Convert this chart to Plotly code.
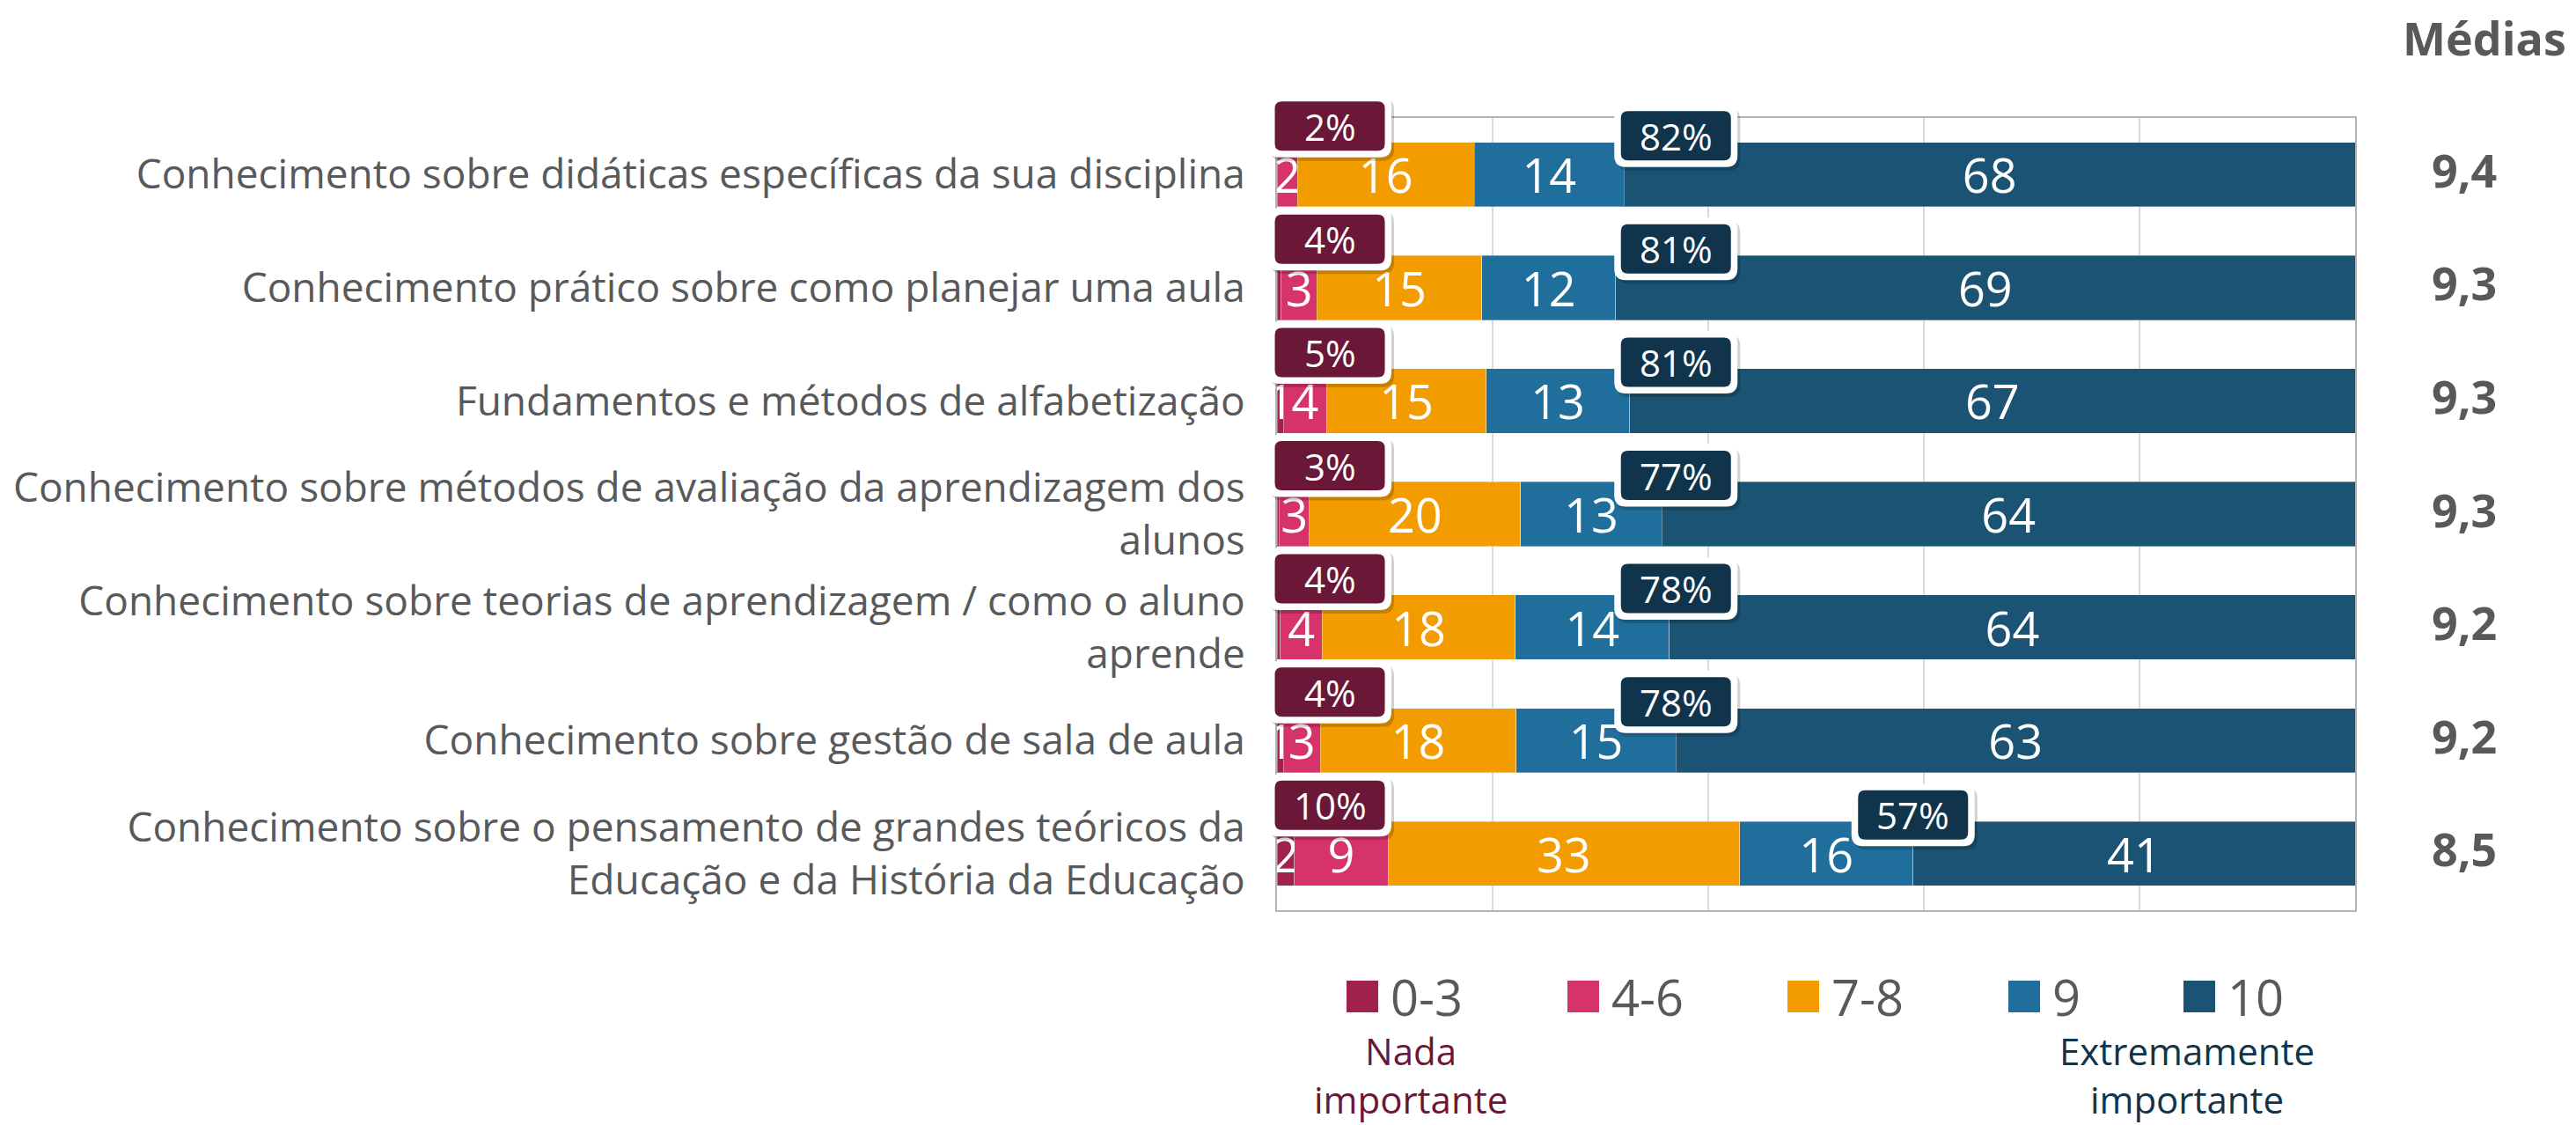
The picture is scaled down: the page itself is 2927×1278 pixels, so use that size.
import plotly.graph_objects as go

# ---------------- data ----------------
categories = [
    "Conhecimento sobre didáticas específicas da sua disciplina",
    "Conhecimento prático sobre como planejar uma aula",
    "Fundamentos e métodos de alfabetização",
    "Conhecimento sobre métodos de avaliação da aprendizagem dos<br>alunos",
    "Conhecimento sobre teorias de aprendizagem / como o aluno<br>aprende",
    "Conhecimento sobre gestão de sala de aula",
    "Conhecimento sobre o pensamento de grandes teóricos da<br>Educação e da História da Educação",
]
series_names = ["0-3", "4-6", "7-8", "9", "10"]
v_0_3 = [0.0, 0.4, 0.6, 0.2, 0.3, 0.6, 1.6]
v_4_6 = [1.9, 3.3, 4.0, 2.8, 3.9, 3.4, 8.7]
v_7_8 = [16.4, 15.3, 14.8, 19.6, 17.9, 18.2, 32.6]
v_9 = [13.9, 12.4, 13.3, 13.1, 14.3, 14.8, 16.1]
v_10 = [67.8, 68.6, 67.3, 64.3, 63.6, 63.0, 41.0]
low_pct = [2, 4, 5, 3, 4, 4, 10]        # 0-6 combined
high_pct = [82, 81, 81, 77, 78, 78, 57]  # 9-10 combined
medias = [9.4, 9.3, 9.3, 9.3, 9.2, 9.2, 8.5]
scale_low_label = "Nada<br>importante"
scale_high_label = "Extremamente<br>importante"
medias_title = "Médias"

series_values = [v_0_3, v_4_6, v_7_8, v_9, v_10]
colors = ["#a3214f", "#d6336c", "#f39c00", "#1f6e9b", "#1a5374"]
low_box_color = "#6b1737"
high_box_color = "#10344b"
gray = "#58595b"
FONT = "Open Sans"

# ---------------- geometry (pixels) ----------------
W, H = 2927, 1278
PL, PR, PT, PB = 1451, 2676, 134, 1034
pw, ph = PR - PL, PB - PT
n = len(categories)

def px2paper_x(px):
    return (px - PL) / pw

def px2paper_y(py):
    return (PB - py) / ph

def row2paper(i):
    return (n - 0.5 - i) / n

ys = list(range(n))

fig = go.Figure()
for name, vals, col in zip(series_names, series_values, colors):
    fig.add_trace(go.Bar(
        y=ys, x=vals, name=name, orientation="h",
        marker=dict(color=col, line=dict(color="rgba(255,255,255,0.35)", width=1)),
        text=[f"{v:.0f}" if round(v) >= 1 else "" for v in vals],
        textposition="inside", insidetextanchor="middle", textangle=0,
        constraintext="none",
        textfont=dict(family=FONT, size=54, color="white"),
        hoverinfo="skip", showlegend=False,
    ))

def rrect(cx, cy, w, h, r):
    x0, x1 = cx - w / 2, cx + w / 2
    y0, y1 = cy - h / 2, cy + h / 2
    return (f"M {x0+r},{y0} L {x1-r},{y0} Q {x1},{y0} {x1},{y0+r} "
            f"L {x1},{y1-r} Q {x1},{y1} {x1-r},{y1} L {x0+r},{y1} "
            f"Q {x0},{y1} {x0},{y1-r} L {x0},{y0+r} Q {x0},{y0} {x0+r},{y0} Z")

shapes = []
annotations = []

def callout(xdata, row, dy, label, color):
    xa, ya = xdata / 100.0, row2paper(row)
    base = dict(type="path", xref="paper", yref="paper", xsizemode="pixel", ysizemode="pixel",
                xanchor=xa, yanchor=ya, layer="above", line=dict(width=0))
    shapes.append(dict(base, path=rrect(3, dy - 4, 140, 71, 13), fillcolor="rgba(0,0,0,0.18)"))
    shapes.append(dict(base, path=rrect(0, dy, 140, 71, 13), fillcolor="white"))
    shapes.append(dict(base, path=rrect(0, dy, 125, 56, 8), fillcolor=color))
    annotations.append(dict(x=xa, y=ya, xref="paper", yref="paper", yshift=dy, text=label,
                            showarrow=False, font=dict(family=FONT, size=42, color="white"),
                            xanchor="center", yanchor="middle"))

for i in ys:
    callout(4.9, i, 55, f"{low_pct[i]}%", low_box_color)
    boundary = v_0_3[i] + v_4_6[i] + v_7_8[i] + v_9[i]
    callout(max(37.0, boundary), i, 44, f"{high_pct[i]}%", high_box_color)
    annotations.append(dict(x=px2paper_x(2800), y=row2paper(i), xref="paper", yref="paper", yshift=6,
                            text=f"{medias[i]:.1f}".replace(".", ","), showarrow=False,
                            font=dict(family=FONT, size=52, color=gray, weight="bold"),
                            xanchor="center", yanchor="middle"))

annotations.append(dict(x=px2paper_x(2823), y=px2paper_y(42), xref="paper", yref="paper",
                        text=medias_title, showarrow=False,
                        font=dict(family=FONT, size=52, color=gray, weight="bold"),
                        xanchor="center", yanchor="middle"))

# custom legend
legend_px = [1530, 1781, 2031, 2282, 2481]
leg_y = 1132
for name, col, lx in zip(series_names, colors, legend_px):
    shapes.append(dict(type="rect", xref="paper", yref="paper", xsizemode="pixel", ysizemode="pixel",
                       xanchor=px2paper_x(lx), yanchor=px2paper_y(leg_y),
                       x0=0, x1=36, y0=-18, y1=18, fillcolor=col, line=dict(width=0)))
    annotations.append(dict(x=px2paper_x(lx + 48), y=px2paper_y(leg_y), xref="paper", yref="paper",
                            text=name, showarrow=False, xanchor="left", yanchor="middle",
                            font=dict(family=FONT, size=56, color=gray)))

annotations.append(dict(x=px2paper_x(1603), y=px2paper_y(1221), xref="paper", yref="paper",
                        text=scale_low_label, showarrow=False, xanchor="center", yanchor="middle",
                        font=dict(family=FONT, size=42, color=low_box_color)))
annotations.append(dict(x=px2paper_x(2485), y=px2paper_y(1221), xref="paper", yref="paper",
                        text=scale_high_label, showarrow=False, xanchor="center", yanchor="middle",
                        font=dict(family=FONT, size=42, color=high_box_color)))

fig.update_layout(
    width=W, height=H,
    margin=dict(l=PL, r=W - PR, t=PT, b=H - PB, pad=0),
    barmode="stack", bargap=0.43,
    paper_bgcolor="white", plot_bgcolor="white",
    font=dict(family=FONT, color=gray),
    shapes=shapes, annotations=annotations,
    showlegend=False,
)
fig.update_xaxes(range=[0, 100], tickvals=[0, 20, 40, 60, 80, 100], showticklabels=False,
                 showgrid=True, gridcolor="#d9d9d9", gridwidth=1.5, zeroline=False,
                 showline=True, linecolor="#b3b3b3", linewidth=2, mirror=True, ticks="")
fig.update_yaxes(range=[n - 0.5, -0.5], tickvals=ys, ticktext=categories,
                 tickfont=dict(family=FONT, size=46, color=gray), ticks="", ticklabelstandoff=25,
                 showgrid=False, zeroline=False,
                 showline=True, linecolor="#b3b3b3", linewidth=2, mirror=True)

fig.write_html("out.html", config={"displayModeBar": False},
               post_script="document.body.style.margin='0';document.body.style.overflow='hidden';")
